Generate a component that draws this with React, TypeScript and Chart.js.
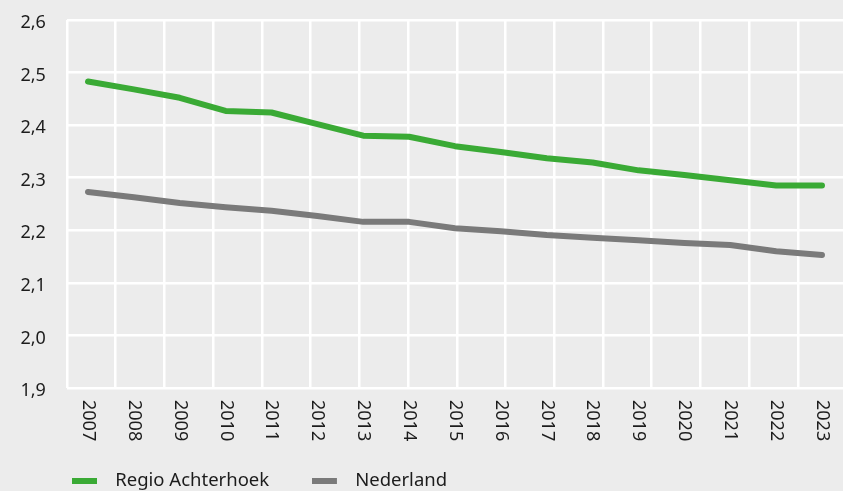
import { useEffect, useRef } from 'react';
import { Chart, registerables } from 'chart.js';

Chart.register(...registerables);

// Gemiddelde huishoudensgrootte per jaar
const years = ['2007', '2008', '2009', '2010', '2011', '2012', '2013', '2014', '2015', '2016', '2017', '2018', '2019', '2020', '2021', '2022', '2023'];
const regioAchterhoek = [2.483, 2.468, 2.452, 2.427, 2.424, 2.402, 2.380, 2.378, 2.360, 2.349, 2.337, 2.329, 2.314, 2.305, 2.295, 2.285, 2.285];
const nederland = [2.273, 2.263, 2.252, 2.244, 2.237, 2.227, 2.216, 2.216, 2.204, 2.198, 2.191, 2.186, 2.181, 2.176, 2.172, 2.160, 2.153];
const yTickValues = [1.9, 2.0, 2.1, 2.2, 2.3, 2.4, 2.5, 2.6];
const seriesNames = ['Regio Achterhoek', 'Nederland'];

const WIDTH = 843;
const HEIGHT = 491;
const BG = '#ececec';
const GREEN = '#3aaa35';
const GREY = '#7a7a7a';
const TEXT = '#1c1c1c';
const FONT_FAMILY = '"Noto Sans", "Open Sans", sans-serif';
const GRID_COLUMNS = 15.925; // width of the plot in grid-column units
const SWATCH_W = 25;
const SWATCH_H = 6;
const SWATCH_BOX = 34;
const LEGEND_FONT = 18.5;
const LEGEND_GAP = 42.75;

function makeSwatch(color: string): HTMLCanvasElement {
  const c = document.createElement('canvas');
  c.width = SWATCH_BOX;
  c.height = SWATCH_H;
  const g = c.getContext('2d');
  if (g) {
    g.fillStyle = color;
    g.fillRect(0, 0, SWATCH_W, SWATCH_H);
  }
  return c;
}

// Year labels under the plot, rotated a quarter turn clockwise.
const yearLabels = {
  id: 'yearLabels',
  afterDraw(chart: any) {
    const { ctx, chartArea, scales } = chart;
    const xScale = scales.x;
    ctx.save();
    ctx.font = `18px ${FONT_FAMILY}`;
    ctx.fillStyle = TEXT;
    ctx.textAlign = 'left';
    ctx.textBaseline = 'middle';
    years.forEach((label, i) => {
      ctx.save();
      ctx.translate(xScale.getPixelForValue(i), chartArea.bottom + 12);
      ctx.rotate(Math.PI / 2);
      ctx.fillText(label, 0, 0);
      ctx.restore();
    });
    ctx.restore();
  },
};

export default function App() {
  const canvasRef = useRef<HTMLCanvasElement | null>(null);

  useEffect(() => {
    const canvas = canvasRef.current;
    if (!canvas) return;
    const colors = [GREEN, GREY];
    const swatches = colors.map(makeSwatch);

    const chart = new Chart(canvas, {
      type: 'line',
      data: {
        datasets: [
          {
            label: seriesNames[0],
            data: regioAchterhoek.map((v, i) => ({ x: i, y: v })),
            borderColor: GREEN,
            backgroundColor: GREEN,
            borderWidth: 6,
            pointRadius: 0,
            tension: 0,
            borderCapStyle: 'round',
            borderJoinStyle: 'round',
            order: 1,
          },
          {
            label: seriesNames[1],
            data: nederland.map((v, i) => ({ x: i, y: v })),
            borderColor: GREY,
            backgroundColor: GREY,
            borderWidth: 6,
            pointRadius: 0,
            tension: 0,
            borderCapStyle: 'round',
            borderJoinStyle: 'round',
            order: 2,
          },
        ],
      },
      options: {
        responsive: false,
        animation: false,
        devicePixelRatio: 1,
        layout: { padding: { left: 72 - LEGEND_GAP, top: 20, right: 0, bottom: -9.25 } },
        plugins: {
          tooltip: { enabled: false },
          legend: {
            position: 'bottom',
            align: 'start',
            labels: {
              usePointStyle: true,
              pointStyleWidth: SWATCH_BOX,
              padding: LEGEND_GAP,
              color: TEXT,
              font: { family: FONT_FAMILY, size: LEGEND_FONT },
              generateLabels: (c: any) => {
                const items = Chart.defaults.plugins.legend.labels.generateLabels(c);
                items.forEach((item: any, i: number) => {
                  item.pointStyle = swatches[i];
                });
                return items;
              },
            },
          },
        },
        scales: {
          x: {
            type: 'linear',
            position: 'bottom',
            min: -0.458,
            max: 16.458,
            grid: { display: false },
            border: { display: false },
            ticks: { display: false },
            afterFit: (s: any) => {
              s.height = 41;
            },
          },
          xGrid: {
            type: 'linear',
            position: 'top',
            min: 0,
            max: GRID_COLUMNS,
            grid: { color: '#ffffff', lineWidth: 2.5, drawTicks: false },
            border: { display: false },
            ticks: { display: false },
            afterBuildTicks: (s: any) => {
              const t = [];
              for (let k = 0; k < GRID_COLUMNS; k++) t.push({ value: k });
              s.ticks = t;
            },
            afterFit: (s: any) => {
              s.height = 0;
            },
          },
          y: {
            type: 'linear',
            min: 1.9,
            max: 2.6,
            grid: { color: '#ffffff', lineWidth: 2.5, drawTicks: false },
            border: { display: false },
            afterBuildTicks: (s: any) => {
              s.ticks = yTickValues.map((v) => ({ value: v }));
            },
            ticks: {
              mirror: true,
              crossAlign: 'near',
              padding: -46.5,
              labelOffset: 3,
              color: TEXT,
              font: { family: FONT_FAMILY, size: 18 },
              callback: (v: any) => Number(v).toFixed(1).replace('.', ','),
            },
            afterFit: (s: any) => {
              s.width = 67 - (72 - LEGEND_GAP);
            },
          },
        },
      },
      plugins: [yearLabels],
    } as any);

    return () => chart.destroy();
  }, []);

  return (
    <div style={{ position: 'fixed', left: 0, top: 0, width: WIDTH, height: HEIGHT, background: BG, overflow: 'hidden' }}>
      <canvas ref={canvasRef} width={WIDTH} height={HEIGHT} style={{ display: 'block', width: WIDTH, height: HEIGHT }} />
    </div>
  );
}
